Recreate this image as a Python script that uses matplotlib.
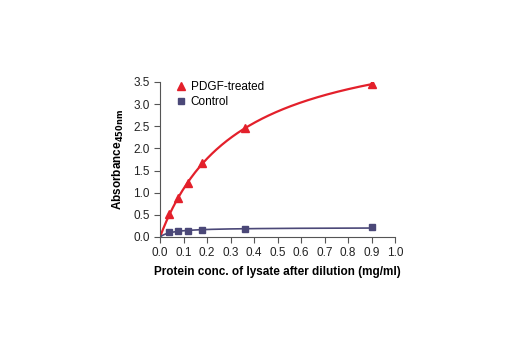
import matplotlib
matplotlib.use("Agg")
import matplotlib.pyplot as plt
import numpy as np

plt.rcParams['font.family'] = ['Liberation Sans Narrow', 'Liberation Sans', 'DejaVu Sans']
plt.rcParams['mathtext.fontset'] = 'custom'
plt.rcParams['mathtext.rm'] = 'Liberation Sans Narrow:bold'

conc = [0.0375, 0.075, 0.12, 0.18, 0.36, 0.9]
pdgf = [0.52, 0.87, 1.21, 1.66, 2.45, 3.45]
control = [0.11, 0.13, 0.13, 0.15, 0.18, 0.22]

red = "#e3202b"
navy = "#4b4878"


def fit_hyperbola(x, y):
    # y = vmax * x / (k + x), grid over k, least squares vmax
    x = np.array(x)
    y = np.array(y)
    best = None
    for k in np.linspace(0.001, 3, 3000):
        g = x / (k + x)
        vmax = (g * y).sum() / (g * g).sum()
        err = ((vmax * g - y) ** 2).sum()
        if best is None or err < best[0]:
            best = (err, k, vmax)
    return best[1], best[2]


fig = plt.figure(figsize=(5.2, 3.5), dpi=100)
ax = fig.add_axes([0.3077, 0.323, 0.452, 0.443])

xs = np.linspace(0, 0.9, 200)
k, vmax = fit_hyperbola(conc, pdgf)
ax.plot(xs, vmax * xs / (k + xs), color=red, lw=1.6, zorder=2)
k2, vmax2 = fit_hyperbola(conc, control)
ax.plot(xs, vmax2 * xs / (k2 + xs), color=navy, lw=1.2, zorder=2)

ax.plot(conc, pdgf, ls="none", marker="^", ms=6, color=red, label="PDGF-treated", zorder=3)
ax.plot(conc, control, ls="none", marker="s", ms=5, color=navy, label="Control", zorder=3)

ax.set_xlim(0, 1.0)
ax.set_ylim(0, 3.5)
ax.set_xticks(np.arange(0, 1.01, 0.1))
ax.set_yticks(np.arange(0, 3.51, 0.5))
ax.xaxis.set_major_formatter(matplotlib.ticker.FormatStrFormatter("%.1f"))
ax.yaxis.set_major_formatter(matplotlib.ticker.FormatStrFormatter("%.1f"))
ax.tick_params(labelsize=8.5, length=4, width=0.8, color="#555555", labelcolor="#222222")

for s in ["top", "right"]:
    ax.spines[s].set_visible(False)
for s in ["left", "bottom"]:
    ax.spines[s].set_color("#555555")
    ax.spines[s].set_linewidth(0.8)

ax.set_xlabel("Protein conc. of lysate after dilution (mg/ml)", fontsize=8.5, fontweight="bold", labelpad=5)
ax.set_ylabel(r"Absorbance$_{\mathrm{450nm}}$", fontsize=8.5, fontweight="bold", labelpad=5)

ax.legend(loc="upper left", bbox_to_anchor=(0.03, 1.06), frameon=False, fontsize=8.5,
          handletextpad=0.3, borderpad=0.2, labelspacing=0.25, handlelength=1.0)

fig.savefig("out.png", dpi=100)
